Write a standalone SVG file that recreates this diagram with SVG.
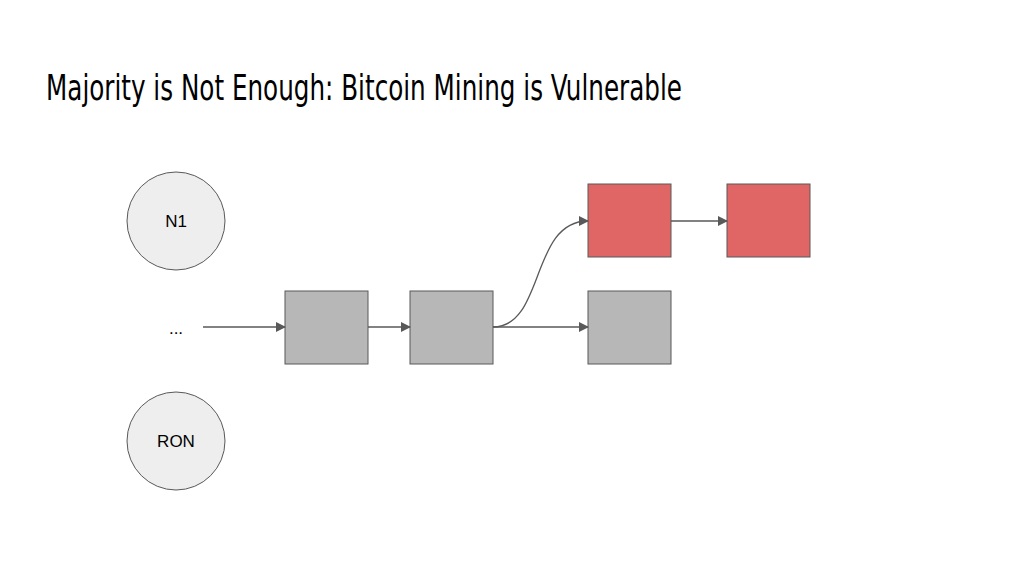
<svg xmlns="http://www.w3.org/2000/svg" width="1024" height="576" viewBox="0 0 1024 576">
<style>
.c{fill:#eeeeee;stroke:#595959;stroke-width:1}
.g{fill:#b7b7b7;stroke:#595959;stroke-width:1}
.r{fill:#e06666;stroke:#595959;stroke-width:1}
.t{font-family:"Liberation Sans",Arial,sans-serif;font-size:17px;fill:#000;text-anchor:middle}
.e{fill:none;stroke:#595959;stroke-width:1.3;marker-end:url(#a)}
</style>
<defs><marker id="a" markerWidth="10" markerHeight="10" refX="9" refY="5" orient="auto" markerUnits="userSpaceOnUse"><path d="M0,0 L10,5 L0,10 z" fill="#595959"/></marker></defs>
<rect width="1024" height="576" fill="#fff"/>
<text x="46" y="100" font-family="'DejaVu Sans Condensed','Liberation Sans',sans-serif" font-size="36" fill="#000" textLength="636" lengthAdjust="spacingAndGlyphs">Majority is Not Enough: Bitcoin Mining is Vulnerable</text>
<g id="n1"><circle class="c" cx="176" cy="221" r="49"/><text class="t" x="176" y="227">N1</text></g>
<g id="ron"><circle class="c" cx="176" cy="441" r="49"/><text class="t" x="176" y="447">RON</text></g>
<g id="dots"><text class="t" x="176" y="334" font-size="22">...</text></g>
<g id="b1"><rect class="g" x="285" y="291" width="83" height="73"/></g>
<g id="b2"><rect class="g" x="410" y="291" width="83" height="73"/></g>
<g id="b3"><rect class="g" x="588" y="291" width="83" height="73"/></g>
<g id="r1"><rect class="r" x="588" y="184" width="83" height="73"/></g>
<g id="r2"><rect class="r" x="727" y="184" width="83" height="73"/></g>
<g id="edges">
<path class="e" d="M203,327 L285,327"/>
<path class="e" d="M368,327 L410,327"/>
<path class="e" d="M493,327 L588,327"/>
<path class="e" d="M493,327 C545,327 530,221 588,221"/>
<path class="e" d="M671,221 L727,221"/>
</g>
</svg>
